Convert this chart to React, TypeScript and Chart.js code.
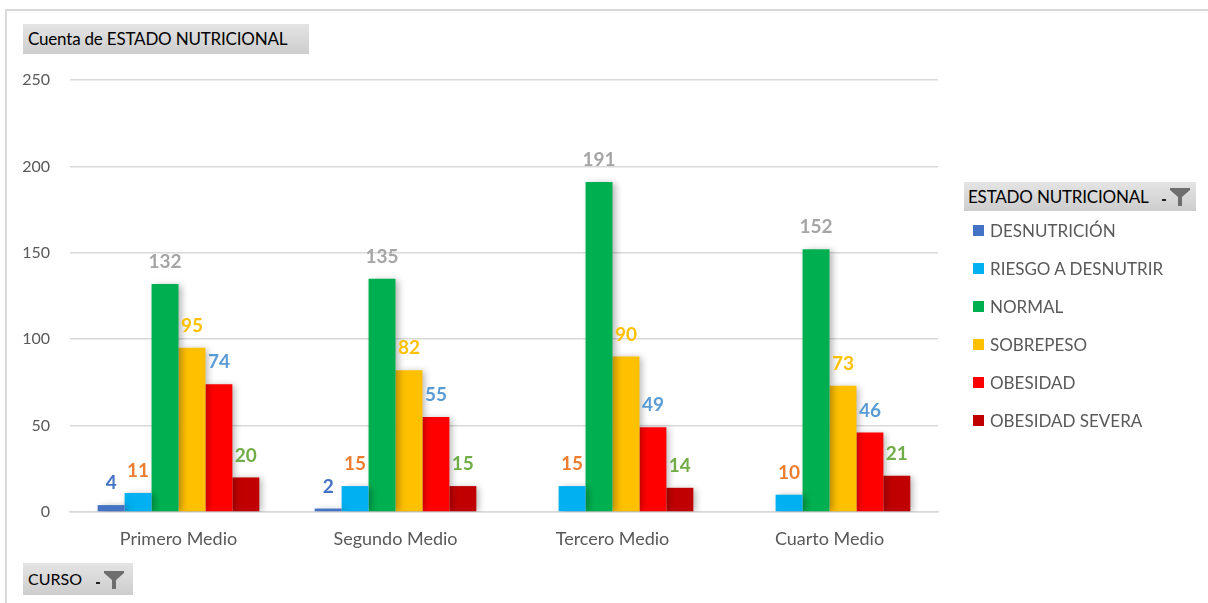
import React, { useEffect, useRef } from "react";
import { Chart, registerables } from "chart.js";

Chart.register(...registerables);

const categories = ["Primero Medio", "Segundo Medio", "Tercero Medio", "Cuarto Medio"];
const seriesNames = ["DESNUTRICIÓN", "RIESGO A DESNUTRIR", "NORMAL", "SOBREPESO", "OBESIDAD", "OBESIDAD SEVERA"];
const desnutricion = [4, 2, null, null];
const riesgo = [11, 15, 15, 10];
const normal = [132, 135, 191, 152];
const sobrepeso = [95, 82, 90, 73];
const obesidad = [74, 55, 49, 46];
const obesidadSevera = [20, 15, 14, 21];
const yTicks = [0, 50, 100, 150, 200, 250];

const barColors = ["#4472C4", "#00B0F0", "#00B050", "#FFC000", "#FF0000", "#C00000"];
const labelColors = ["#4472C4", "#ED7D31", "#A5A5A5", "#FFC000", "#5B9BD5", "#70AD47"];
const FONT = 'Lato, "Noto Sans", sans-serif';

const labelPlugin = {
  id: "barLabels",
  beforeDatasetsDraw(chart: any) {
    const c = chart.ctx;
    c.save();
    c.shadowColor = "rgba(0,0,0,0.3)";
    c.shadowBlur = 7;
    c.shadowOffsetX = 3;
    c.shadowOffsetY = 1;
  },
  afterDatasetsDraw(chart: any) {
    const c = chart.ctx;
    c.restore();
    c.save();
    c.font = `bold 19px ${FONT}`;
    c.textAlign = "center";
    c.textBaseline = "middle";
    chart.data.datasets.forEach((ds: any, i: number) => {
      const meta = chart.getDatasetMeta(i);
      meta.data.forEach((el: any, j: number) => {
        const v = ds.data[j];
        if (v == null) return;
        c.fillStyle = labelColors[i];
        c.fillText(String(v), el.x, el.y - 22);
      });
    });
    c.restore();
  },
};

function Funnel({ x, y }: { x: number; y: number }) {
  return (
    <svg width={30} height={22} style={{ position: "absolute", left: x, top: y }}>
      <rect x={1} y={13} width={4} height={2} fill="#222" />
      <path d="M9 2 L29 2 L29 4 L21 11 L21 20 L17 20 L17 11 L9 4 Z" fill="#6e6e6e" />
    </svg>
  );
}

const btn: React.CSSProperties = {
  position: "absolute",
  background: "linear-gradient(#e4e4e4, #cdcdcd)",
  fontFamily: FONT,
  color: "#000",
  boxSizing: "border-box",
  whiteSpace: "nowrap",
};

export default function App() {
  const ref = useRef<HTMLCanvasElement>(null);
  useEffect(() => {
    document.body.style.margin = "0";
    const data = [desnutricion, riesgo, normal, sobrepeso, obesidad, obesidadSevera];
    const chart = new Chart(ref.current!, {
      type: "bar",
      data: {
        labels: categories,
        datasets: seriesNames.map((n, i) => ({
          label: n,
          data: data[i] as any,
          backgroundColor: barColors[i],
          borderWidth: 0,
          categoryPercentage: 0.745,
          barPercentage: 1,
        })),
      },
      options: {
        responsive: false,
        animation: false,
        devicePixelRatio: 1,
        layout: { padding: { left: 0, top: 80, right: 270, bottom: 0 } },
        plugins: { legend: { display: false }, tooltip: { enabled: false } },
        scales: {
          x: {
            grid: { display: false, drawTicks: false },
            border: { display: true, color: "#D9D9D9", width: 1.5 },
            ticks: { color: "#595959", font: { family: FONT, size: 18 }, padding: 16 },
            afterFit: (s: any) => { s.height = 91; },
          },
          y: {
            min: 0,
            max: 250,
            afterBuildTicks: (s: any) => { s.ticks = yTicks.map((v) => ({ value: v })); },
            grid: { color: "#D9D9D9", lineWidth: 1.5, drawTicks: false },
            border: { display: false },
            ticks: { color: "#595959", font: { family: FONT, size: 16 }, padding: 20 },
            afterFit: (s: any) => { s.width = 70; },
          },
        },
      },
      plugins: [labelPlugin],
    });
    return () => chart.destroy();
  }, []);

  return (
    <div style={{ position: "relative", width: 1208, height: 603, overflow: "hidden", background: "#fff" }}>
      <div style={{ position: "absolute", left: 5, top: 9, right: 0, height: 2, background: "#D9D9D9" }} />
      <div style={{ position: "absolute", left: 5, top: 9, width: 2, bottom: 0, background: "#D9D9D9" }} />
      <canvas ref={ref} width={1208} height={603} style={{ position: "absolute", left: 0, top: 0 }} />
      <div style={{ ...btn, left: 23, top: 24, width: 286, height: 30, fontSize: 17, lineHeight: "30px", paddingLeft: 5, letterSpacing: -0.2 }}>
        Cuenta de ESTADO NUTRICIONAL
      </div>
      <div style={{ ...btn, left: 23, top: 563, width: 110, height: 32, fontSize: 16, lineHeight: "32px", paddingLeft: 5 }}>
        CURSO
        <Funnel x={72} y={6} />
      </div>
      <div style={{ ...btn, left: 964, top: 182, width: 232, height: 29, fontSize: 17, lineHeight: "29px", paddingLeft: 4, letterSpacing: -0.2 }}>
        ESTADO NUTRICIONAL
        <Funnel x={197} y={4} />
      </div>
      {seriesNames.map((n, i) => (
        <div key={n} style={{ position: "absolute", left: 973, top: 231 + 38 * i - 12, height: 24, fontFamily: FONT, fontSize: 17, color: "#595959", lineHeight: "24px", whiteSpace: "nowrap" }}>
          <span style={{ position: "absolute", left: 0, top: 6, width: 11, height: 11, background: barColors[i] }} />
          <span style={{ position: "absolute", left: 17, top: 0 }}>{n}</span>
        </div>
      ))}
    </div>
  );
}
